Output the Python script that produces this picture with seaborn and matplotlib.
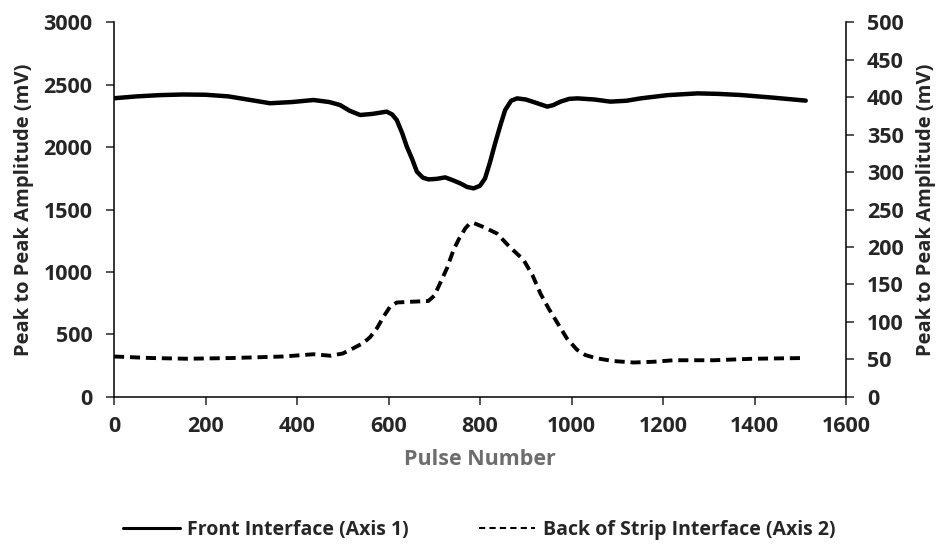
import matplotlib
matplotlib.use("Agg")
import matplotlib.pyplot as plt
from matplotlib.lines import Line2D
import seaborn as sns
import pandas as pd

# Front Interface (Axis 1)
front_x = [0, 50, 100, 150, 200, 250, 300, 341, 390, 436, 470, 494, 515, 538, 565, 596,
           608, 618, 630, 640, 652, 662, 675, 687, 705, 724, 740, 757, 772, 786, 800,
           811, 822, 833, 845, 855, 868, 881, 900, 917, 947, 960, 976, 995, 1013, 1050,
           1085, 1120, 1151, 1210, 1276, 1320, 1370, 1440, 1512]
front_y = [2390, 2405, 2415, 2420, 2418, 2405, 2375, 2350, 2360, 2376, 2360, 2336, 2290,
           2256, 2265, 2283, 2260, 2216, 2110, 2003, 1900, 1803, 1755, 1741, 1745, 1757,
           1735, 1709, 1680, 1669, 1690, 1749, 1880, 2029, 2180, 2296, 2370, 2389, 2380,
           2360, 2323, 2335, 2363, 2385, 2389, 2380, 2363, 2370, 2389, 2415, 2429, 2425,
           2416, 2395, 2371]

# Back of Strip Interface (Axis 2)
back_x = [0, 80, 160, 260, 370, 436, 473, 500, 523, 545, 560, 575, 589, 603, 618, 650,
          687, 700, 713, 728, 742, 755, 768, 777, 786, 810, 837, 865, 895, 915, 932, 950,
          970, 990, 1012, 1030, 1052, 1090, 1136, 1180, 1223, 1311, 1398, 1512]
back_y = [54, 52, 51, 52, 54, 57, 55, 58, 65, 72, 80, 92, 107, 120, 126, 127, 128, 135,
          152, 172, 196, 212, 225, 231, 232, 226, 218, 200, 183, 162, 138, 118, 98, 78,
          63, 56, 52, 48, 46, 47, 49, 49, 51, 52]

x_ticks = [0, 200, 400, 600, 800, 1000, 1200, 1400, 1600]
left_ticks = [0, 500, 1000, 1500, 2000, 2500, 3000]
right_ticks = [0, 50, 100, 150, 200, 250, 300, 350, 400, 450, 500]

sns.set_style("white")
plt.rcParams['font.family'] = ['Open Sans', 'DejaVu Sans']
plt.rcParams['font.weight'] = 'bold'

fig = plt.figure(figsize=(9.4, 5.46), dpi=100)
ax = fig.add_axes([0.1213, 0.2729, 0.7787, 0.6868])
ax2 = ax.twinx()

df_front = pd.DataFrame({"x": front_x, "y": front_y})
df_back = pd.DataFrame({"x": back_x, "y": back_y})

sns.lineplot(data=df_front, x="x", y="y", ax=ax, color="black", lw=3.2, sort=False)
sns.lineplot(data=df_back, x="x", y="y", ax=ax2, color="black", lw=2.8, sort=False,
             linestyle=(0, (2.6, 1.5)))

ax.set_xlim(0, 1600)
ax.set_ylim(0, 3000)
ax2.set_ylim(0, 500)
ax.set_xticks(x_ticks)
ax.set_yticks(left_ticks)
ax2.set_yticks(right_ticks)

fs = 15.5
for a in (ax, ax2):
    for s in a.spines.values():
        s.set_color("black")
        s.set_linewidth(1.1)
    a.spines["top"].set_visible(False)
    a.grid(False)

ax.spines["right"].set_visible(False)
ax2.spines["left"].set_visible(False)
ax2.spines["bottom"].set_visible(False)

ax.tick_params(axis="x", direction="out", length=5.5, width=1.1, pad=8, labelsize=fs, bottom=True)
ax.tick_params(axis="y", direction="out", length=5.5, width=1.1, pad=10, labelsize=fs, left=True)
ax2.tick_params(axis="y", direction="out", length=5.5, width=1.1, pad=9.5, labelsize=fs, right=True)
for lab in ax.get_xticklabels() + ax.get_yticklabels() + ax2.get_yticklabels():
    lab.set_fontweight("bold")

ax.set_xlabel("Pulse Number", fontsize=15.5, fontweight="bold", color="#6d6d6d", labelpad=9)
ax.set_ylabel("Peak to Peak Amplitude (mV)", fontsize=14.5, fontweight="bold", labelpad=7)
ax2.set_ylabel("Peak to Peak Amplitude (mV)", fontsize=14.5, fontweight="bold", labelpad=9)

handles = [Line2D([], [], color="black", lw=2.2),
           Line2D([], [], color="black", lw=1.5, linestyle=(0, (3, 2)))]
labels = ["Front Interface (Axis 1)", "Back of Strip Interface (Axis 2)"]
fig.legend(handles, labels, loc="center", bbox_to_anchor=(0.51, 0.03), ncol=2,
           frameon=False, handlelength=2.9, handletextpad=0.4,
           columnspacing=3.6, prop={"weight": "bold", "size": 14})

fig.savefig("out.png", dpi=100)
